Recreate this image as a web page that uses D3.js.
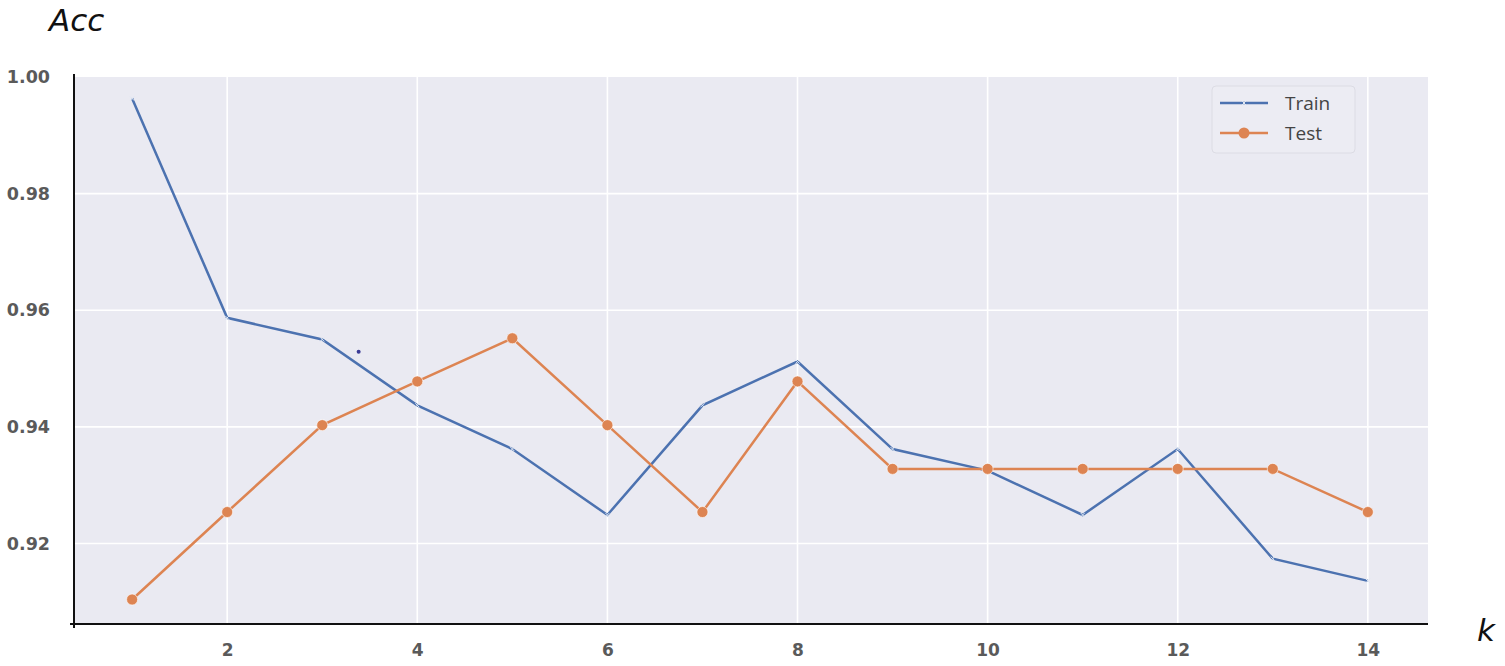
<!DOCTYPE html>
<html>
<head>
<meta charset="utf-8">
<script src="https://cdn.jsdelivr.net/npm/d3@7"></script>
<style>
  body { margin: 0; background: #fff; }
  svg { display: block; }
  .tick text { font-family: "DejaVu Sans", sans-serif; font-weight: bold; fill: #5a5a5a; }
</style>
</head>
<body>
<div id="chart"></div>
<script>
// values
const kValues = [1, 2, 3, 4, 5, 6, 7, 8, 9, 10, 11, 12, 13, 14];
const trainAcc = [0.9963, 0.9587, 0.9550, 0.9437, 0.9362, 0.9249, 0.9437, 0.9512, 0.9362, 0.9325, 0.9249, 0.9362, 0.9174, 0.9136];
const testAcc = [0.9104, 0.9254, 0.9403, 0.9478, 0.9552, 0.9403, 0.9254, 0.9478, 0.9328, 0.9328, 0.9328, 0.9328, 0.9328, 0.9254];
const xTicks = [2, 4, 6, 8, 10, 12, 14];
const yTicks = [0.92, 0.94, 0.96, 0.98, 1.00];
const seriesNames = ['Train', 'Test'];
// a stray speck sitting in the plot
const stray = [{ k: 3.383, acc: 0.9529 }];

const width = 1505;
const height = 666;
const plot = { left: 75, right: 1428, top: 77, bottom: 624 };

const svg = d3.select('#chart')
  .append('svg')
  .attr('width', width)
  .attr('height', height);

const x = d3.scaleLinear().domain([0.399, 14.633]).range([plot.left, plot.right]);
const y = d3.scaleLinear().domain([0.9062, 1.0]).range([plot.bottom, plot.top]);

// background
svg.append('rect')
  .attr('x', plot.left)
  .attr('y', plot.top)
  .attr('width', plot.right - plot.left)
  .attr('height', plot.bottom - plot.top)
  .attr('fill', '#eaeaf2');

// gridlines
const grid = svg.append('g');
grid.selectAll('line.v')
  .data(xTicks)
  .join('line')
  .attr('class', 'v')
  .attr('x1', d => x(d)).attr('x2', d => x(d))
  .attr('y1', plot.top).attr('y2', plot.bottom)
  .attr('stroke', '#fff').attr('stroke-width', 1.6);
grid.selectAll('line.h')
  .data(yTicks.filter(d => d < 1))
  .join('line')
  .attr('class', 'h')
  .attr('x1', plot.left).attr('x2', plot.right)
  .attr('y1', d => y(d)).attr('y2', d => y(d))
  .attr('stroke', '#fff').attr('stroke-width', 1.6);

// axes
const xAxis = svg.append('g')
  .attr('transform', `translate(0, ${plot.bottom})`)
  .call(d3.axisBottom(x).tickValues(xTicks).tickSize(0).tickPadding(20).tickFormat(d3.format('d')));
xAxis.select('.domain').remove();
xAxis.selectAll('text').style('font-size', '17px');

const yAxis = svg.append('g')
  .attr('transform', `translate(${plot.left}, 0)`)
  .call(d3.axisLeft(y).tickValues(yTicks).tickSize(0).tickPadding(25).tickFormat(d3.format('.2f')));
yAxis.select('.domain').remove();
yAxis.selectAll('text').style('font-size', '17.5px');

// spines
svg.append('line')
  .attr('x1', plot.left - 1).attr('x2', plot.left - 1)
  .attr('y1', plot.top - 3).attr('y2', plot.bottom + 4)
  .attr('stroke', '#111').attr('stroke-width', 2);
svg.append('line')
  .attr('x1', plot.left - 5).attr('x2', plot.right)
  .attr('y1', plot.bottom).attr('y2', plot.bottom)
  .attr('stroke', '#111').attr('stroke-width', 2);

const blue = '#4c72b0';
const orange = '#dd8452';

const line = d3.line().x(d => x(d[0])).y(d => y(d[1]));
const trainPts = kValues.map((k, i) => [k, trainAcc[i]]);
const testPts = kValues.map((k, i) => [k, testAcc[i]]);

svg.append('path')
  .datum(trainPts)
  .attr('d', line)
  .attr('fill', 'none')
  .attr('stroke', blue)
  .attr('stroke-width', 2.5);

svg.append('path')
  .datum(testPts)
  .attr('d', line)
  .attr('fill', 'none')
  .attr('stroke', orange)
  .attr('stroke-width', 2.5);

// train markers: tiny pale x
function xMark(g, cx, cy, s, color) {
  g.append('path')
    .attr('d', `M${cx - s},${cy - s}L${cx + s},${cy + s}M${cx - s},${cy + s}L${cx + s},${cy - s}`)
    .attr('stroke', color)
    .attr('stroke-width', 1);
}
const trainMarks = svg.append('g');
trainPts.forEach(d => xMark(trainMarks, x(d[0]), y(d[1]), 2, '#dfe6f2'));

svg.append('g')
  .selectAll('circle')
  .data(testPts)
  .join('circle')
  .attr('cx', d => x(d[0]))
  .attr('cy', d => y(d[1]))
  .attr('r', 5.5)
  .attr('fill', orange)
  .attr('stroke', '#fff')
  .attr('stroke-width', 0.6);

svg.append('g')
  .selectAll('circle')
  .data(stray)
  .join('circle')
  .attr('cx', d => x(d.k))
  .attr('cy', d => y(d.acc))
  .attr('r', 2)
  .attr('fill', '#3b3b96');

// legend
const legend = svg.append('g').attr('transform', 'translate(1212, 86)');
legend.append('rect')
  .attr('width', 143).attr('height', 67)
  .attr('rx', 4)
  .attr('fill', '#ececf3')
  .attr('stroke', '#dcdce4');
seriesNames.forEach((name, i) => {
  const ly = 17 + i * 30;
  const color = i === 0 ? blue : orange;
  legend.append('line')
    .attr('x1', 8).attr('x2', 56)
    .attr('y1', ly).attr('y2', ly)
    .attr('stroke', color).attr('stroke-width', 2.5);
  if (i === 0) {
    xMark(legend, 32, ly, 2, '#dfe6f2');
  } else {
    legend.append('circle').attr('cx', 32).attr('cy', ly).attr('r', 5.5).attr('fill', color);
  }
  legend.append('text')
    .attr('x', 73).attr('y', ly + 7)
    .attr('font-family', '"Open Sans", sans-serif')
    .attr('font-size', 19)
    .attr('fill', '#444')
    .text(name);
});

// axis titles
svg.append('text')
  .attr('x', 49).attr('y', 31)
  .attr('font-family', '"DejaVu Sans", sans-serif')
  .attr('font-style', 'italic')
  .attr('font-size', 31)
  .attr('fill', '#111')
  .text('Acc');

svg.append('text')
  .attr('x', 1477).attr('y', 641)
  .attr('font-family', '"DejaVu Sans", sans-serif')
  .attr('font-style', 'italic')
  .attr('font-size', 31)
  .attr('fill', '#111')
  .text('k');
</script>
</body>
</html>
